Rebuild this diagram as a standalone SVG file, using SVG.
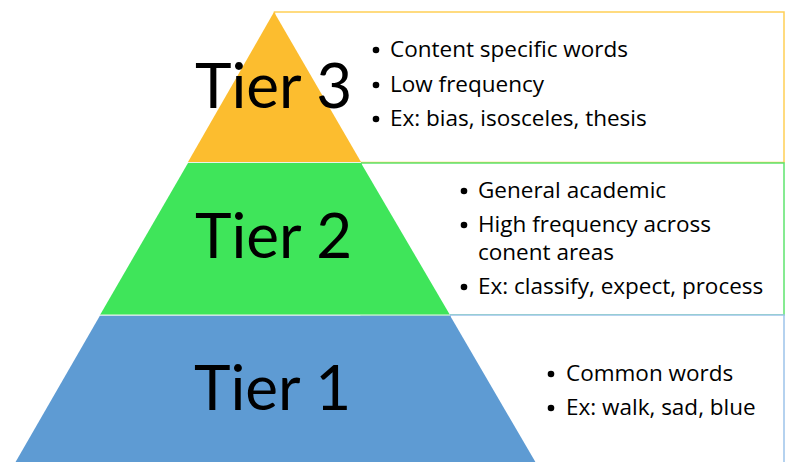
<svg xmlns="http://www.w3.org/2000/svg" width="791" height="462" viewBox="0 0 791 462">
<style>
.tier{font-family:Lato,"Open Sans","Liberation Sans",sans-serif;font-size:62px;fill:#000}
.b{font-family:"Open Sans","Liberation Sans",sans-serif;font-size:22.5px;fill:#000}
.dot{fill:#000}
.box{fill:#fff;stroke-width:1.5}
.sep{stroke:#e8f4ea;stroke-width:1.2}
</style>
<rect width="791" height="462" fill="#fff"/>
<g id="tier3">
<rect class="box" x="274.5" y="12" width="509.5" height="150.5" stroke="#FFCF55"/>
<polygon points="274,12 361,162 188,162" fill="#FCBD2F"/>
<text class="tier" x="195" y="108">Tier 3</text>
<circle class="dot" cx="376" cy="50" r="3.3"/><text class="b" x="390" y="57">Content specific words</text>
<circle class="dot" cx="376" cy="85" r="3.3"/><text class="b" x="390" y="92">Low frequency</text>
<circle class="dot" cx="376" cy="119" r="3.3"/><text class="b" x="390" y="126">Ex: bias, isosceles, thesis</text>
</g>
<g id="tier2">
<rect class="box" x="361" y="163" width="423" height="152" stroke="#5EE46E"/>
<polygon points="188,163 361,163 450,315 100,315" fill="#3FE55A"/>
<line class="sep" x1="188" y1="162.5" x2="361" y2="162.5"/>
<text class="tier" x="195" y="258">Tier 2</text>
<circle class="dot" cx="464" cy="191" r="3.3"/><text class="b" x="478" y="198">General academic</text>
<circle class="dot" cx="464" cy="225" r="3.3"/><text class="b" x="478" y="232">High frequency across</text>
<text class="b" x="478" y="260">conent areas</text>
<circle class="dot" cx="464" cy="287" r="3.3"/><text class="b" x="478" y="294">Ex: classify, expect, process</text>
</g>
<g id="tier1">
<rect class="box" x="450" y="315" width="334" height="160" stroke="#9DC3EA"/>
<polygon points="100,315.5 450,315.5 536,463 15,463" fill="#5E9BD3"/>
<line class="sep" x1="100" y1="315" x2="450" y2="315"/>
<text class="tier" x="194" y="410">Tier 1</text>
<circle class="dot" cx="551" cy="374" r="3.3"/><text class="b" x="566" y="381">Common words</text>
<circle class="dot" cx="551" cy="408" r="3.3"/><text class="b" x="566" y="415">Ex: walk, sad, blue</text>
</g>
<g id="connectors"/>
</svg>
